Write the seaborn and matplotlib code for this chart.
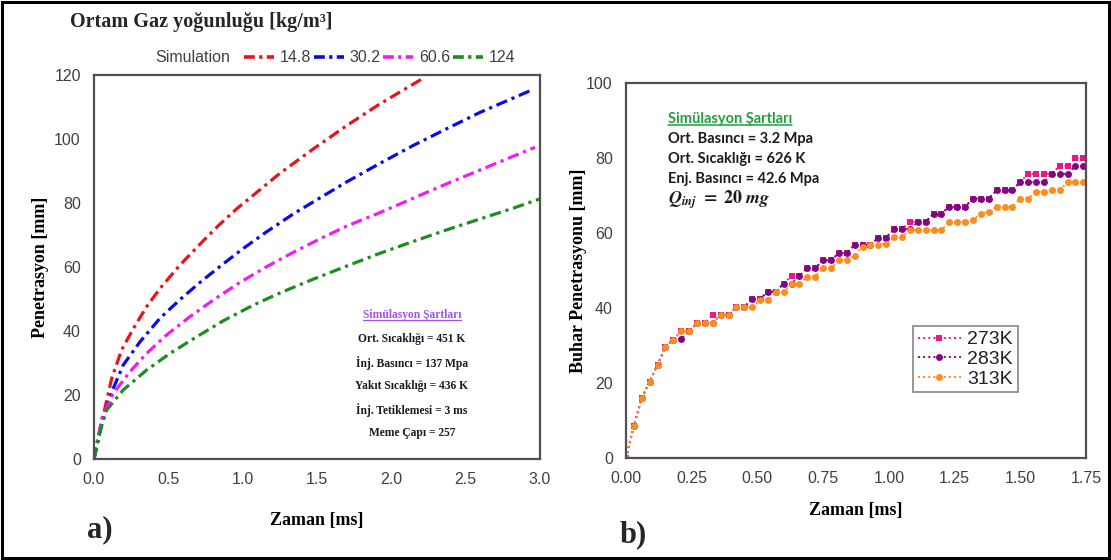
import pandas as pd
import matplotlib
matplotlib.use("Agg")
import matplotlib.pyplot as plt
import seaborn as sns
from matplotlib.lines import Line2D
from matplotlib.patches import Rectangle
from matplotlib.ticker import MultipleLocator, FormatStrFormatter

# ---- panel a) : spray penetration vs time for 4 gas densities ----
DENSITY_LABELS = ["14.8", "30.2", "60.6", "124"]
DENSITY_COLORS = ["#e8141c", "#0a0ae6", "#f21cf2", "#1e8c1e"]

t_148 = [0.0, 0.074, 0.119, 0.186, 0.265, 0.354, 0.444, 0.578, 0.735, 0.836, 0.960,
         1.094, 1.251, 1.475, 1.700, 1.924, 2.215]
p_148 = [0.0, 16.0, 25.2, 34.1, 40.8, 47.6, 53.3, 60.6, 68.2, 72.9, 78.2,
         83.3, 89.3, 96.9, 104.2, 111.0, 119.0]

t_302 = [0.0, 0.06, 0.130, 0.197, 0.309, 0.444, 0.578, 0.713, 0.870, 1.004, 1.161,
         1.341, 1.520, 1.700, 1.924, 2.148, 2.372, 2.596, 2.944]
p_302 = [0.0, 12.5, 22.1, 29.4, 36.6, 44.0, 49.8, 55.2, 61.0, 65.8, 71.0,
         76.6, 81.6, 86.6, 92.4, 98.0, 103.2, 108.3, 115.3]

t_606 = [0.0, 0.052, 0.130, 0.242, 0.354, 0.489, 0.646, 0.803, 0.982, 1.161, 1.341,
         1.520, 1.700, 1.924, 2.148, 2.372, 2.596, 2.966]
p_606 = [0.0, 12.7, 20.5, 27.3, 33.0, 38.8, 44.5, 49.7, 55.2, 60.1, 64.6,
         68.8, 72.8, 77.0, 81.5, 86.0, 90.3, 97.4]

t_124 = [0.0, 0.029, 0.085, 0.197, 0.354, 0.511, 0.691, 0.870, 1.072, 1.251, 1.475,
         1.700, 1.924, 2.148, 2.372, 2.596, 2.821, 3.0]
p_124 = [0.0, 7.0, 15.3, 21.6, 27.8, 33.0, 38.2, 43.2, 48.1, 51.9, 56.2,
         60.3, 64.3, 68.0, 71.6, 75.0, 78.4, 81.3]

# ---- panel b) : vapour penetration vs time for 3 fuel temperatures ----
TEMP_LABELS = ["273K", "283K", "313K"]
TEMP_COLORS = ["#f0148c", "#7d0a82", "#ff8c1e"]
TEMP_MARKERS = ["s", "o", "o"]

t_b = [0.00, 0.03, 0.06, 0.09, 0.12, 0.15, 0.18, 0.21, 0.24, 0.27,
       0.30, 0.33, 0.36, 0.39, 0.42, 0.45, 0.48, 0.51, 0.54, 0.57,
       0.60, 0.63, 0.66, 0.69, 0.72, 0.75, 0.78, 0.81, 0.84, 0.87,
       0.90, 0.93, 0.96, 0.99, 1.02, 1.05, 1.08, 1.11, 1.14, 1.17,
       1.20, 1.23, 1.26, 1.29, 1.32, 1.35, 1.38, 1.41, 1.44, 1.47,
       1.50, 1.53, 1.56, 1.59, 1.62, 1.65, 1.68, 1.71, 1.74]

v_273 = [0.0, 8.6, 16.0, 20.4, 24.9, 29.6, 31.6, 33.8, 33.8, 36.0,
         36.0, 38.2, 38.2, 38.2, 40.3, 40.3, 42.4, 42.4, 44.4, 44.4,
         46.5, 48.6, 48.6, 50.7, 50.7, 52.7, 52.7, 54.7, 54.7, 56.9,
         56.8, 56.8, 58.8, 58.8, 61.0, 61.0, 63.0, 63.0, 63.0, 65.2,
         65.2, 67.0, 67.0, 67.0, 69.2, 69.2, 69.2, 71.4, 71.4, 71.4,
         73.6, 75.8, 75.8, 75.8, 75.8, 77.9, 77.9, 80.0, 80.0]

v_283 = [0.0, 8.6, 16.0, 20.4, 24.9, 29.6, 31.6, 31.7, 33.8, 36.0,
         36.0, 36.0, 38.2, 38.2, 40.3, 40.3, 42.4, 42.4, 44.4, 44.4,
         46.5, 46.5, 48.6, 50.7, 50.7, 52.7, 52.7, 54.7, 54.7, 56.8,
         56.8, 56.8, 58.8, 58.8, 61.0, 61.0, 61.0, 63.0, 63.0, 65.2,
         65.2, 67.0, 67.0, 67.0, 69.2, 69.2, 69.2, 71.4, 71.4, 71.4,
         73.6, 73.6, 73.6, 73.6, 75.8, 75.8, 75.8, 77.9, 77.9]

v_313 = [0.0, 8.6, 16.0, 20.4, 24.9, 29.6, 31.6, 33.8, 33.8, 36.0,
         36.0, 36.0, 38.2, 38.2, 40.3, 40.3, 40.3, 42.2, 42.2, 44.2,
         44.4, 46.5, 46.5, 48.4, 48.4, 50.6, 50.6, 52.7, 52.7, 54.0,
         56.4, 56.8, 56.8, 57.2, 59.0, 59.0, 60.8, 60.8, 60.8, 60.8,
         60.8, 63.0, 63.0, 63.0, 63.5, 65.2, 65.7, 67.0, 67.0, 67.0,
         69.2, 69.2, 71.0, 71.0, 71.5, 71.5, 73.5, 73.5, 73.5]

COND_A = ["Ort. Sıcaklığı = 451 K", "İnj. Basıncı = 137 Mpa", "Yakıt Sıcaklığı = 436 K",
          "İnj. Tetiklemesi = 3 ms", "Meme Çapı = 257"]
COND_B = ["Ort. Basıncı = 3.2 Mpa", "Ort. Sıcaklığı = 626 K", "Enj. Basıncı = 42.6 Mpa"]


def underline(fig, txt, color, lw=1.0):
    """Draw a thin line under a text object (figure coords)."""
    fig.canvas.draw()
    bb = txt.get_window_extent(renderer=fig.canvas.get_renderer())
    bb = bb.transformed(fig.transFigure.inverted())
    fig.add_artist(Line2D([bb.x0, bb.x1], [bb.y0 + 0.002, bb.y0 + 0.002],
                          transform=fig.transFigure, color=color, lw=lw))


def style_axis(ax):
    for side in ["top", "right", "left", "bottom"]:
        ax.spines[side].set_visible(True)
        ax.spines[side].set_color("#505050")
        ax.spines[side].set_linewidth(1.6)
    ax.tick_params(which="both", direction="out", colors="#505050",
                   labelcolor="#404040", labelsize=11.5, width=1.3)
    ax.tick_params(which="major", length=6)
    ax.tick_params(which="minor", length=3.5)
    ax.tick_params(top=False, right=False)
    ax.grid(False)


sns.set_theme(style="white")
plt.rcParams["font.family"] = ["Liberation Sans", "DejaVu Sans"]
plt.rcParams["mathtext.fontset"] = "stix"

fig = plt.figure(figsize=(11.11, 5.6), dpi=100)
ax_a = fig.add_axes([94 / 1111, 1 - 459 / 560, 446 / 1111, 384 / 560])
ax_b = fig.add_axes([626 / 1111, 1 - 458 / 560, 460 / 1111, 375 / 560])

# ---------------- panel a ----------------
series_a = [(t_148, p_148), (t_302, p_302), (t_606, p_606), (t_124, p_124)]
handles = []
for (tt, pp), lab, col in zip(series_a, DENSITY_LABELS, DENSITY_COLORS):
    df = pd.DataFrame({"t": tt, "p": pp})
    sns.lineplot(data=df, x="t", y="p", ax=ax_a, color=col, lw=2.3,
                 sort=False, estimator=None)
    line = ax_a.get_lines()[-1]
    line.set_dashes((3.6, 1.5, 1.0, 1.5))
    handles.append(Line2D([], [], color=col, lw=2.6, dashes=(3.0, 1.2, 0.9, 1.2)))

ax_a.set_xlim(0, 3.0)
ax_a.set_ylim(0, 120)
ax_a.xaxis.set_major_locator(MultipleLocator(0.5))
ax_a.xaxis.set_minor_locator(MultipleLocator(0.25))
ax_a.yaxis.set_major_locator(MultipleLocator(20))
ax_a.yaxis.set_minor_locator(MultipleLocator(10))
ax_a.xaxis.set_major_formatter(FormatStrFormatter("%.1f"))
style_axis(ax_a)
ax_a.set_xlabel("Zaman [ms]", family="Liberation Serif", fontweight="bold",
                fontsize=13, color="black")
ax_a.set_ylabel("Penetrasyon [mm]", family="Liberation Serif", fontweight="bold",
                fontsize=13, color="black")
ax_a.xaxis.set_label_coords(0.5, -0.138)
ax_a.yaxis.set_label_coords(-0.10, 0.5)

fig.text(70 / 1111, 1 - 22 / 560, "Ortam Gaz yoğunluğu [kg/m³]", family="Liberation Serif",
         fontweight="bold", fontsize=14.5, va="center", ha="left")
fig.text(155 / 1111, 1 - 58 / 560, "Simulation", fontsize=11.5, color="#404040",
         va="center", ha="left")
fig.legend(handles, DENSITY_LABELS, ncol=4, loc="center left",
           bbox_to_anchor=(244 / 1111, 1 - 58 / 560), frameon=False,
           handlelength=1.9, handletextpad=0.35, columnspacing=0.15,
           fontsize=11.5, labelcolor="#404040", borderaxespad=0, borderpad=0)

ttl_a = ax_a.text(0.713, 0.375, "Simülasyon Şartları", transform=ax_a.transAxes,
                  ha="center", va="center", family="Liberation Serif",
                  fontweight="bold", fontsize=8.3, color="#a050f0")
for i, s in enumerate(COND_A):
    ax_a.text(0.713, 0.3125 - i * 0.0615, s, transform=ax_a.transAxes, ha="center",
              va="center", family="Liberation Serif", fontweight="bold", fontsize=8.3,
              color="#1a1a1a")

# ---------------- panel b ----------------
series_b = [v_273, v_283, v_313]
for vals, lab, col, mk in zip(series_b, TEMP_LABELS, TEMP_COLORS, TEMP_MARKERS):
    df = pd.DataFrame({"t": t_b, "v": vals})
    sns.lineplot(data=df, x="t", y="v", ax=ax_b, color=col, lw=1.4,
                 linestyle=":", marker=mk, markersize=5, markeredgewidth=0,
                 label=lab, estimator=None)

ax_b.set_xlim(0, 1.75)
ax_b.set_ylim(0, 100)
ax_b.xaxis.set_major_locator(MultipleLocator(0.25))
ax_b.xaxis.set_minor_locator(MultipleLocator(0.125))
ax_b.yaxis.set_major_locator(MultipleLocator(20))
ax_b.yaxis.set_minor_locator(MultipleLocator(10))
ax_b.xaxis.set_major_formatter(FormatStrFormatter("%.2f"))
style_axis(ax_b)
ax_b.set_xlabel("Zaman [ms]", family="Liberation Serif", fontweight="bold",
                fontsize=13, color="black")
ax_b.set_ylabel("Buhar Penetrasyonu [mm]", family="Liberation Serif", fontweight="bold",
                fontsize=13, color="black")
ax_b.xaxis.set_label_coords(0.5, -0.118)
ax_b.yaxis.set_label_coords(-0.085, 0.5)

leg = ax_b.legend(loc="upper left", bbox_to_anchor=(0.624, 0.352), fontsize=14,
                  frameon=True, fancybox=False, edgecolor="#909090", framealpha=1,
                  handlelength=2.2, handletextpad=0.35, labelspacing=0.1,
                  borderpad=0.25, borderaxespad=0, numpoints=1, labelcolor="#202020")
leg.get_frame().set_linewidth(1.3)

ttl_b = ax_b.text(0.091, 0.904, "Simülasyon Şartları", transform=ax_b.transAxes,
                  ha="left", va="center", family="Lato", fontweight="bold",
                  fontsize=10.5, color="#20a040")
for i, s in enumerate(COND_B):
    ax_b.text(0.091, 0.851 - i * 0.054, s, transform=ax_b.transAxes, ha="left",
              va="center", family="Lato", fontweight="bold", fontsize=10.5,
              color="#1a1a1a")
ax_b.text(0.091, 0.69, r"$\mathbfit{Q}_{\mathbfit{inj}}\ \mathbf{=}\ \mathbf{20}\ \mathbfit{mg}$",
          transform=ax_b.transAxes, ha="left", va="center", fontsize=13, color="#1a1a1a")

# panel letters and outer frame
fig.text(87 / 1111, 1 - 530 / 560, "a)", family="Liberation Serif", fontweight="bold",
         fontsize=22, va="center", ha="left")
fig.text(620 / 1111, 1 - 535 / 560, "b)", family="Liberation Serif", fontweight="bold",
         fontsize=22, va="center", ha="left")
fig.add_artist(Rectangle((0.002, 0.004), 0.996, 0.992, transform=fig.transFigure,
                         fill=False, lw=2.2, ec="black"))

underline(fig, ttl_a, "#a050f0", lw=0.9)
underline(fig, ttl_b, "#20a040", lw=1.1)

fig.savefig("out.png", dpi=100)
plt.close(fig)
